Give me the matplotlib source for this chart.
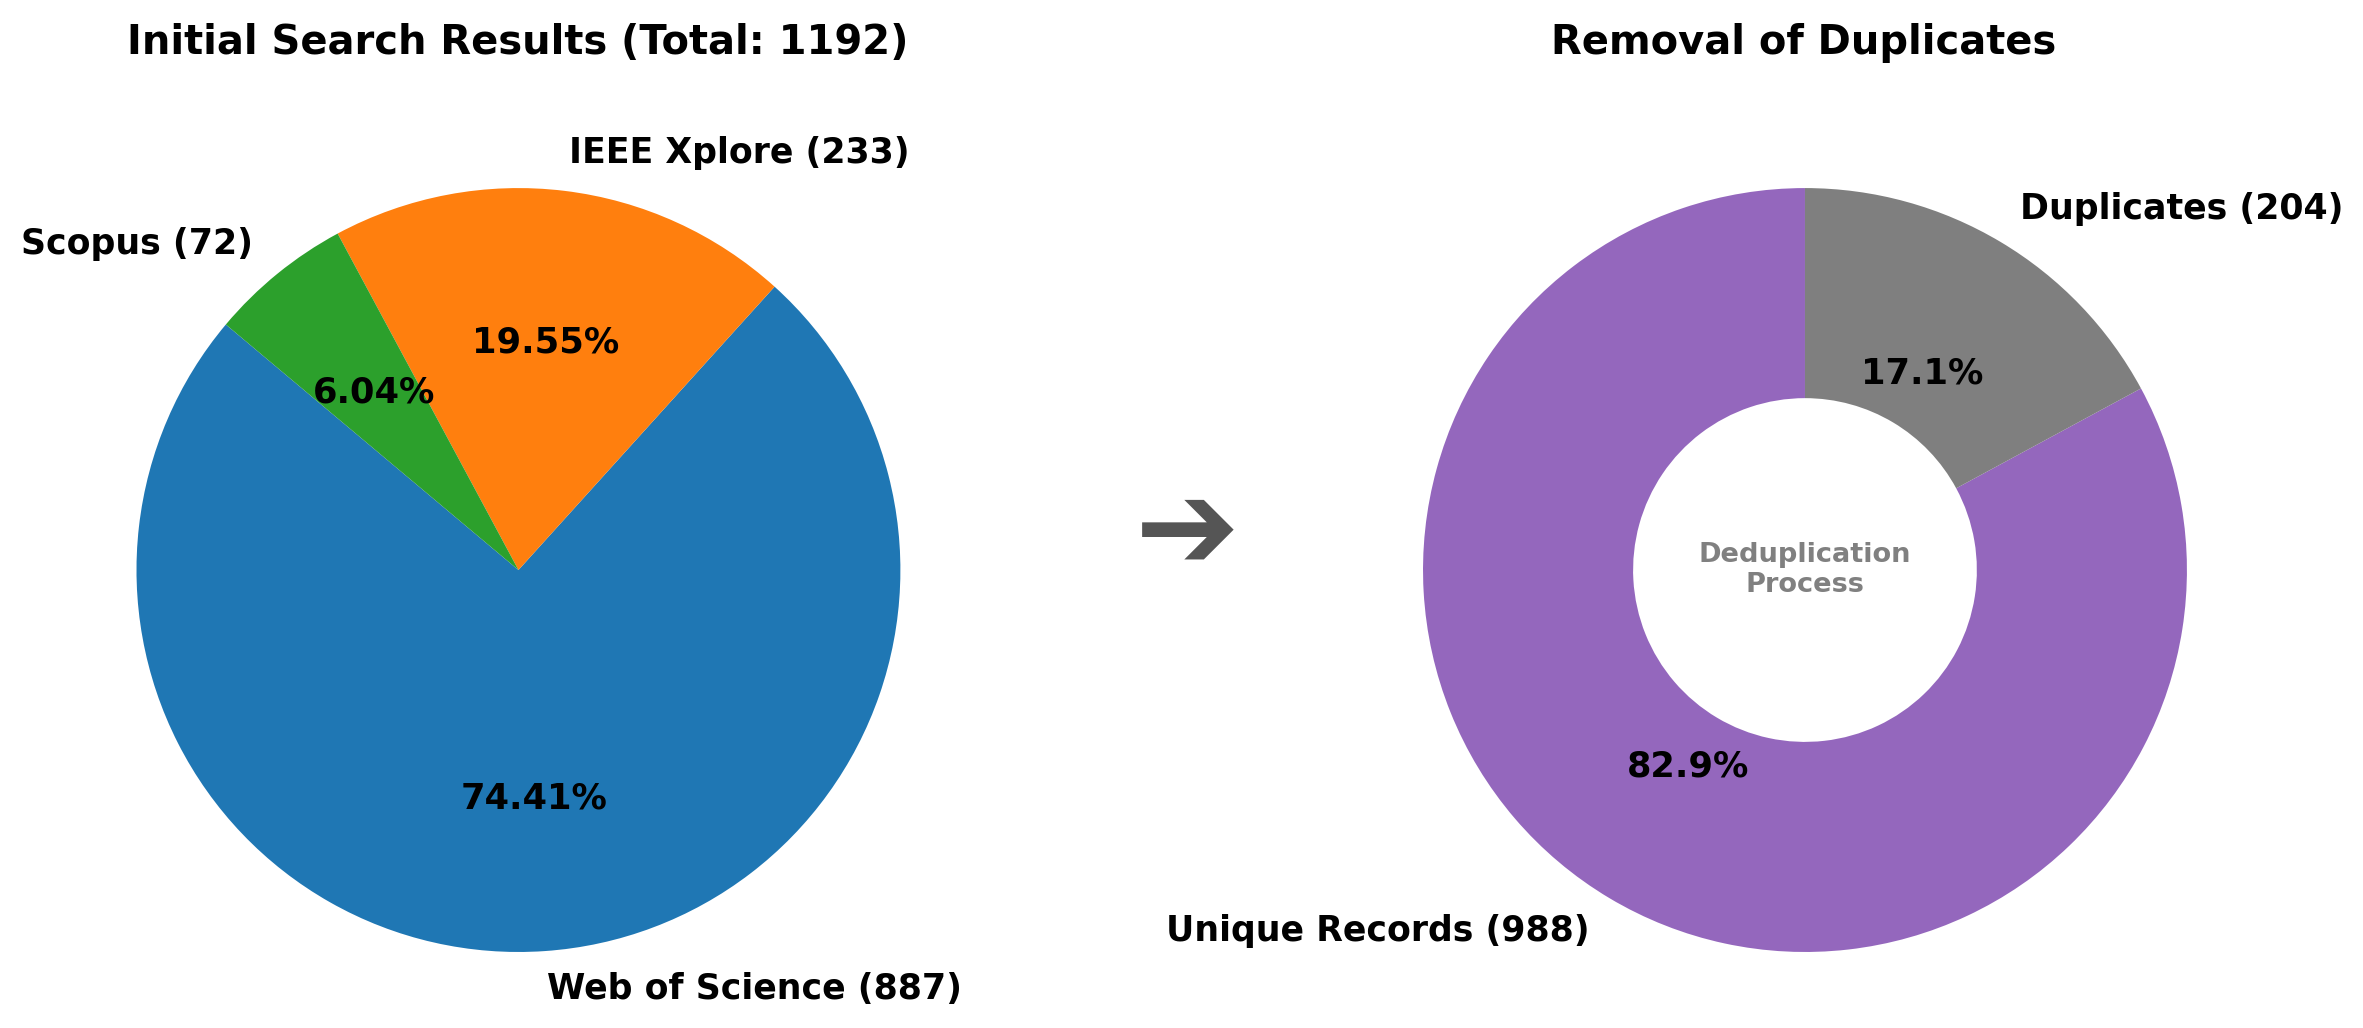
import matplotlib
matplotlib.use("Agg")
import matplotlib.pyplot as plt

# search results per database
sources = ["Web of Science", "IEEE Xplore", "Scopus"]
source_counts = [887, 233, 72]
source_colors = ["#1f77b4", "#ff7f0e", "#2ca02c"]

# after deduplication
dedup_labels = ["Unique Records", "Duplicates"]
dedup_counts = [988, 204]
dedup_colors = ["#9467bd", "#7f7f7f"]

total = sum(source_counts)

dpi = 200
fig = plt.figure(figsize=(2363 / dpi, 1028 / dpi), dpi=dpi)

ax1 = fig.add_axes([0.01735, -0.019, 0.4041, 0.929])
ax2 = fig.add_axes([0.5618, -0.019, 0.4041, 0.929])

ax1.pie(source_counts,
        labels=["{} ({})".format(s, c) for s, c in zip(sources, source_counts)],
        colors=source_colors, autopct='%1.2f%%', startangle=140,
        textprops={'fontsize': 12.5, 'fontweight': 'bold'})
for t in ax1.texts:
    if t.get_text().endswith('%'):
        t.set_fontsize(12.7)

ax2.pie(dedup_counts,
        labels=["{} ({})".format(s, c) for s, c in zip(dedup_labels, dedup_counts)],
        colors=dedup_colors, autopct='%1.1f%%', startangle=90,
        wedgeprops={'width': 0.55},
        textprops={'fontsize': 12.5, 'fontweight': 'bold'})
for t in ax2.texts:
    if t.get_text().endswith('%'):
        t.set_fontsize(12.7)
ax2.text(0, 0, "Deduplication\nProcess", ha='center', va='center',
         fontsize=9.8, fontweight='bold', color='#808080')

for ax in (ax1, ax2):
    ax.set_xlim(-1.25, 1.25)
    ax.set_ylim(-1.25, 1.25)

fig.text(518 / 2363, 1 - 43 / 1028, "Initial Search Results (Total: {})".format(total),
         ha='center', va='center', fontsize=14.4, fontweight='bold')
fig.text(1804 / 2363, 1 - 43 / 1028, "Removal of Duplicates",
         ha='center', va='center', fontsize=14.4, fontweight='bold')

# arrow between the two charts
fig.text(1187 / 2363, 1 - 534 / 1028, "\u2794", ha='center', va='center',
         fontsize=45, color='#555555')

fig.savefig("out.png", dpi=dpi)
